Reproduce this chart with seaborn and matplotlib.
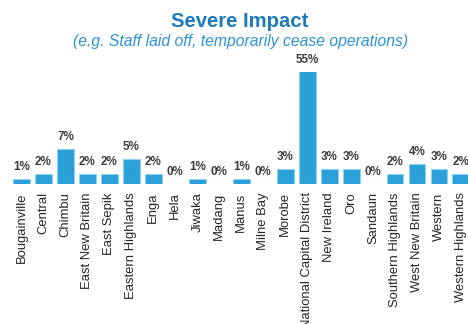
import matplotlib
matplotlib.use("Agg")
import matplotlib.pyplot as plt
import seaborn as sns
import pandas as pd

provinces = [
    "Bougainville", "Central", "Chimbu", "East New Britain", "East Sepik",
    "Eastern Highlands", "Enga", "Hela", "Jiwaka", "Madang", "Manus",
    "Milne Bay", "Morobe", "National Capital District", "New Ireland", "Oro",
    "Sandaun", "Southern Highlands", "West New Britain", "Western",
    "Western Highlands",
]
share_pct = [1, 2, 7, 2, 2, 5, 2, 0, 1, 0, 1, 0, 3, 55, 3, 3, 0, 2, 4, 3, 2]

title = "Severe Impact"
subtitle = "(e.g. Staff laid off, temporarily cease operations)"

sns.set_theme(style="white")
plt.rcParams["font.family"] = ["Liberation Sans", "DejaVu Sans"]

df = pd.DataFrame({"province": provinces, "share": share_pct})

fig = plt.figure(figsize=(4.68, 3.24), dpi=100)
ax = fig.add_axes([0.0224, 0.432, 0.986, 0.346])

sns.barplot(data=df, x="province", y="share", color="#2a9fd8", saturation=1,
            width=0.77, edgecolor="#8ed2f2", linewidth=0.8, ax=ax)

# the tallest bar runs past the frame; the y range is kept for the small ones
ymax = 22.4
ax.set_ylim(0, ymax)
ax.set_xlim(-0.5, len(provinces) - 0.5)

for i, v in enumerate(share_pct):
    ax.annotate(f"{v}%", xy=(i, min(v, ymax)), xytext=(0, 4.2),
                textcoords="offset points", ha="center", va="bottom",
                fontsize=8.4, fontweight="bold", color="#3c3c3c",
                annotation_clip=False)

ax.set_xlabel("")
ax.set_ylabel("")
ax.set_yticks([])
ax.tick_params(axis="x", length=0, pad=6)
plt.setp(ax.get_xticklabels(), rotation=90, fontsize=9.4, color="#262626")
for s in ax.spines.values():
    s.set_visible(False)

fig.text(0.513, 0.935, title, ha="center", va="center", fontsize=14.6,
         fontweight="bold", color="#1d7bbd")
fig.text(0.513, 0.872, subtitle, ha="center", va="center", fontsize=11.3,
         style="italic", color="#2d93d6")

fig.savefig("out.png", dpi=100)
